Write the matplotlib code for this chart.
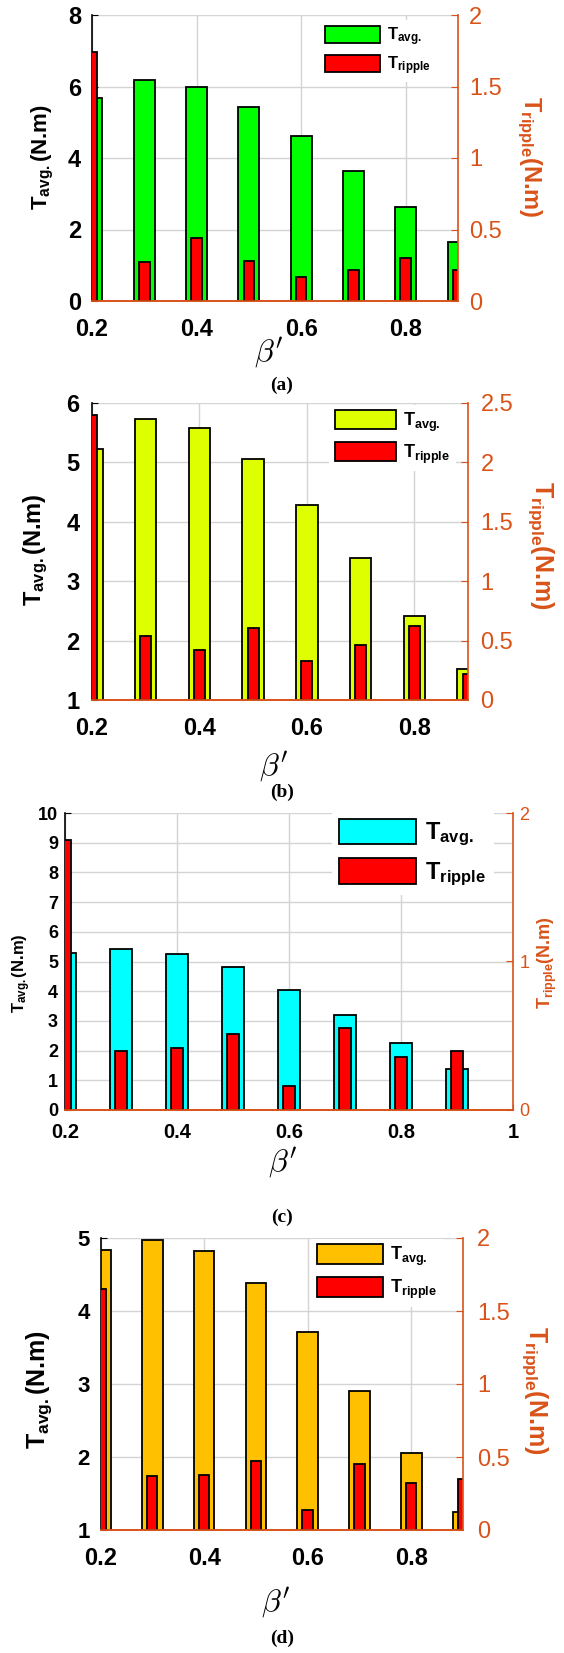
import numpy as np
import matplotlib
matplotlib.use("Agg")
import matplotlib.pyplot as plt
from matplotlib.ticker import FormatStrFormatter

# figure size in pixels (dpi 100)
W, H = 564, 1653
ORANGE = '#D95319'

plt.rcParams['font.family'] = ['Liberation Sans', 'DejaVu Sans']
plt.rcParams['mathtext.fontset'] = 'custom'
plt.rcParams['mathtext.rm'] = 'Liberation Sans'
plt.rcParams['mathtext.bf'] = 'Liberation Sans:bold'
plt.rcParams['mathtext.it'] = 'Liberation Sans:italic'

# data
beta = [0.2, 0.3, 0.4, 0.5, 0.6, 0.7, 0.8, 0.9]

tavg_a = [5.69, 6.17, 5.98, 5.44, 4.61, 3.64, 2.62, 1.64]
trip_a = [1.74, 0.27, 0.44, 0.28, 0.17, 0.22, 0.30, 0.22]

tavg_b = [5.23, 5.73, 5.58, 5.05, 4.28, 3.39, 2.41, 1.53]
trip_b = [2.40, 0.54, 0.42, 0.61, 0.33, 0.46, 0.62, 0.22]

tavg_c = [5.28, 5.43, 5.26, 4.80, 4.05, 3.19, 2.27, 1.37]
trip_c = [1.82, 0.40, 0.42, 0.51, 0.16, 0.55, 0.36, 0.40]

tavg_d = [4.83, 4.97, 4.82, 4.39, 3.71, 2.90, 2.06, 1.24]
trip_d = [1.65, 0.37, 0.38, 0.47, 0.14, 0.45, 0.32, 0.35]

colors = ['#00FF00', '#DDFF00', '#00FFFF', '#FFC000']
captions = ['(a)', '(b)', '(c)', '(d)']

left_ticks = [[0, 2, 4, 6, 8], [1, 2, 3, 4, 5, 6], list(range(0, 11)), [1, 2, 3, 4, 5]]
right_ticks = [[0, 0.5, 1, 1.5, 2], [0, 0.5, 1, 1.5, 2, 2.5], [0, 1, 2], [0, 0.5, 1, 1.5, 2]]
x_ticks = [[0.2, 0.4, 0.6, 0.8], [0.2, 0.4, 0.6, 0.8], [0.2, 0.4, 0.6, 0.8, 1.0], [0.2, 0.4, 0.6, 0.8]]
x_max = [0.9, 0.9, 1.0, 0.9]

# layout (pixels): axes box l, t, r, b
boxes = [(92, 15, 458, 301), (92, 403, 468, 700), (65, 813, 513, 1110), (100.5, 1238, 463, 1530)]
# font sizes: left ticks, x ticks, right ticks, left label, right label, legend
fonts = [(17, 17, 17, 16, 17, 12), (17, 17, 17, 17, 18, 13),
         (13, 14.5, 13, 12, 13, 17), (16, 17, 17, 18, 18, 13)]
pads = [(8, 12, 8), (9, 12, 9), (5, 9, 4.5), (7.5, 12, 10)]
# label centres (pixels): left ylabel, right ylabel, xlabel y, caption y
lab_pos = [((43, 157), (529, 157), 353, 385), ((36, 550), (541, 545), 767, 792),
           ((22, 973), (547, 963), 1163, 1217), ((39.5, 1390), (535, 1390), 1603, 1638)]
right_rot = [270, 270, 90, 270]
# legend: patch top-left (px), handle length, handle height, spacing
legends = [((325, 25), 3.3, 1.2, 0.42), ((334.5, 410), 3.4, 1.28, 0.44),
           ((339, 819), 3.26, 1.27, 0.42), ((317, 1244), 3.67, 1.33, 0.5)]

tavg_all = [tavg_a, tavg_b, tavg_c, tavg_d]
trip_all = [trip_a, trip_b, trip_c, trip_d]

fig = plt.figure(figsize=(W / 100, H / 100), dpi=100)

for i in range(4):
    l, t, r, b = boxes[i]
    ax = fig.add_axes([l / W, 1 - b / H, (r - l) / W, (b - t) / H])
    ax2 = ax.twinx()
    fl, fx, fr, fyl, fyr, fleg = fonts[i]
    pl, px, pr = pads[i]

    h1 = ax.bar(beta, tavg_all[i], width=0.04, color=colors[i], edgecolor='black', linewidth=1.3)
    h2 = ax2.bar(beta, trip_all[i], width=0.02, color='#FF0000', edgecolor='black', linewidth=1.3)

    ax.set_xlim(0.2, x_max[i])
    ax.set_ylim(left_ticks[i][0], left_ticks[i][-1])
    ax2.set_ylim(right_ticks[i][0], right_ticks[i][-1])
    ax.set_xticks(x_ticks[i])
    ax.set_yticks(left_ticks[i])
    ax2.set_yticks(right_ticks[i])
    ax.xaxis.set_major_formatter(FormatStrFormatter('%g'))
    ax2.yaxis.set_major_formatter(FormatStrFormatter('%g'))

    ax.set_axisbelow(True)
    ax.grid(True, color='#d4d4d4', linewidth=1.0)

    for a in (ax, ax2):
        a.spines['top'].set_visible(False)
    ax2.spines['left'].set_visible(False)
    ax.spines['right'].set_visible(False)
    ax.spines['left'].set_color('black')
    ax2.spines['right'].set_color(ORANGE)
    ax2.spines['bottom'].set_color(ORANGE)
    ax.spines['bottom'].set_color(ORANGE)
    for sp in ['left', 'bottom']:
        ax.spines[sp].set_linewidth(1.2)
    ax2.spines['right'].set_linewidth(1.2)
    ax2.spines['bottom'].set_linewidth(1.2)

    ax.tick_params(axis='y', direction='in', length=4, color='black', labelsize=fl, pad=pl)
    ax.tick_params(axis='x', direction='in', length=4, color=ORANGE, labelsize=fx, pad=px)
    ax2.tick_params(axis='y', direction='in', length=5, color=ORANGE, labelcolor=ORANGE,
                    labelsize=fr, pad=pr)
    for lab in ax.get_xticklabels() + ax.get_yticklabels():
        lab.set_fontweight('bold')

    (ylx, yly), (yrx, yry), xly, capy = lab_pos[i]
    fig.text(ylx / W, 1 - yly / H, r'T$_{\mathbf{avg.}}$(N.m)', rotation=90,
             ha='center', va='center', fontsize=fyl, fontweight='bold')
    fig.text(yrx / W, 1 - yry / H, r'T$_{\mathbf{ripple}}$(N.m)', rotation=right_rot[i],
             ha='center', va='center', fontsize=fyr, fontweight='bold', color=ORANGE)
    fig.text(((l + r) / 2 - 6) / W, 1 - xly / H, r"$\beta'$", math_fontfamily='cm',
             ha='center', va='center', fontsize=23)
    fig.text(0.5, 1 - capy / H, captions[i], family='Liberation Serif', fontweight='bold',
             ha='center', va='center', fontsize=14)

    (lx, ly), hl, hh, ls = legends[i]
    fs_px = fleg * 100 / 72
    bp = 0.3
    leg = ax2.legend([h1, h2], [r'T$_{\mathbf{avg.}}$', r'T$_{\mathbf{ripple}}$'],
                     loc='upper left',
                     bbox_to_anchor=((lx - bp * fs_px) / W, 1 - (ly - bp * fs_px) / H),
                     bbox_transform=fig.transFigure, handlelength=hl,
                     handleheight=hh, labelspacing=ls, handletextpad=0.4, borderpad=bp,
                     borderaxespad=0, frameon=True, fancybox=False, framealpha=1,
                     facecolor='white', edgecolor='none', prop={'weight': 'bold', 'size': fleg})

fig.savefig('out.png', dpi=100)
